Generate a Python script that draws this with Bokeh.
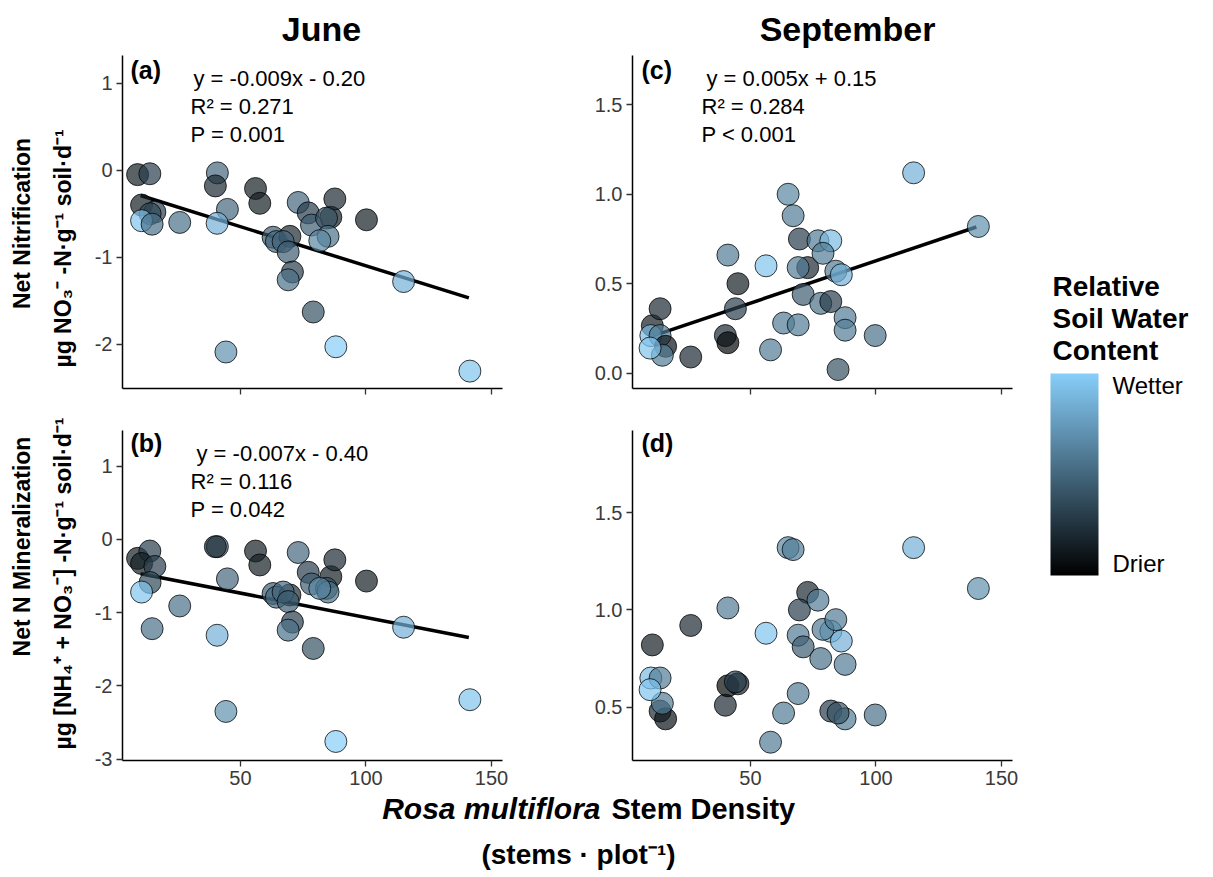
import numpy as np
from bokeh.plotting import figure
from bokeh.models import (Label, ColumnDataSource, LinearColorMapper, ColorBar,
                          FixedTicker, Range1d, PrintfTickFormatter)
from bokeh.layouts import row, column
from bokeh.embed import file_html
from bokeh.resources import INLINE

# ---------------- data ----------------
# June (panels a, b)
jun_x = [9.0, 13.9, 10.6, 15.9, 14.0, 10.6, 14.8, 25.8, 40.8, 40.0, 44.8, 40.7, 44.2, 56.0,
         57.7, 73.0, 77.0, 86.0, 87.6, 100.2, 78.3, 84.3, 84.9, 81.6, 63.0, 64.3, 69.7, 67.0,
         69.0, 70.7, 69.0, 79.0, 115.0, 88.0, 141.4]
jun_moist = [0.15, 0.3, 0.15, 0.3, 0.35, 0.95, 0.55, 0.55, 0.5, 0.2, 0.5, 0.85, 0.7, 0.15,
             0.15, 0.5, 0.3, 0.15, 0.2, 0.15, 0.45, 0.4, 0.55, 0.65, 0.45, 0.5, 0.2, 0.5,
             0.45, 0.3, 0.55, 0.4, 0.85, 1.0, 0.95]
nit_jun = [-0.05, -0.04, -0.40, -0.48, -0.50, -0.58, -0.62, -0.60, -0.03, -0.18, -0.45, -0.61,
           -2.09, -0.21, -0.38, -0.37, -0.49, -0.54, -0.33, -0.57, -0.63, -0.55, -0.76, -0.81,
           -0.77, -0.82, -0.76, -0.82, -0.94, -1.17, -1.26, -1.63, -1.28, -2.03, -2.31]
min_jun = [-0.26, -0.16, -0.33, -0.37, -0.59, -0.72, -1.22, -0.91, -0.10, -0.10, -0.54, -1.31,
           -2.35, -0.16, -0.35, -0.18, -0.45, -0.51, -0.28, -0.57, -0.61, -0.67, -0.72, -0.67,
           -0.74, -0.79, -0.76, -0.72, -0.85, -1.13, -1.24, -1.49, -1.20, -2.76, -2.19]

# September (panels c, d)
sep_x = [10.9, 14.0, 10.3, 14.0, 16.2, 14.9, 10.0, 26.2, 40.0, 41.0, 41.0, 45.0, 44.0, 56.2,
         58.0, 63.2, 65.0, 67.0, 72.8, 69.5, 69.0, 71.0, 69.0, 76.9, 82.0, 78.9, 78.0, 82.0,
         84.0, 86.2, 87.7, 87.7, 84.9, 99.7, 115.0, 140.8]
sep_moist = [0.15, 0.2, 0.9, 0.6, 0.1, 0.6, 0.95, 0.2, 0.2, 0.05, 0.6, 0.15, 0.3, 0.95,
             0.6, 0.6, 0.65, 0.6, 0.2, 0.3, 0.6, 0.45, 0.6, 0.6, 0.9, 0.6, 0.55, 0.3,
             0.6, 0.85, 0.6, 0.6, 0.4, 0.55, 0.85, 0.7]
nit_sep = [0.265, 0.36, 0.21, 0.21, 0.15, 0.10, 0.14, 0.09, 0.21, 0.17, 0.66, 0.50, 0.36, 0.60,
           0.13, 0.28, 1.00, 0.88, 0.59, 0.75, 0.59, 0.44, 0.27, 0.74, 0.74, 0.67, 0.39, 0.40,
           0.57, 0.55, 0.31, 0.24, 0.02, 0.21, 1.12, 0.82]
min_sep = [0.82, 0.48, 0.65, 0.65, 0.44, 0.52, 0.59, 0.92, 0.51, 0.61, 1.01, 0.62, 0.63, 0.88,
           0.32, 0.47, 1.32, 1.31, 1.09, 1.00, 0.87, 0.81, 0.57, 1.05, 0.89, 0.90, 0.75, 0.48,
           0.95, 0.84, 0.72, 0.44, 0.47, 0.46, 1.32, 1.11]

# regression fits (slope, intercept, x extent)
fit_a = (-0.00901, -0.198, [10.2, 141.0])
fit_b = (-0.00665, -0.402, [10.2, 141.0])
fit_c = (0.00473, 0.155, [13.6, 140.0])

eq_a = ["y = -0.009x - 0.20", "R² = 0.271", "P = 0.001"]
eq_b = ["y = -0.007x - 0.40", "R² = 0.116", "P = 0.042"]
eq_c = ["y = 0.005x + 0.15", "R² = 0.284", "P < 0.001"]

x_ticks = [50, 100, 150]

FONT = "Liberation Sans"


def make_palette(n=256):
    lo = np.array([0, 0, 0], dtype=float)
    hi = np.array([135, 206, 250], dtype=float)
    return ["#%02x%02x%02x" % tuple(int(round(v)) for v in lo + (hi - lo) * t)
            for t in np.linspace(0, 1, n)]


PAL = make_palette()
mapper = LinearColorMapper(palette=PAL, low=0, high=1)


def put(p, fx0, fy0, px, py, text, size, style="normal", align="left",
        baseline="middle", angle=0.0, color="black"):
    """Place a label at page pixel (px, py); (fx0, fy0) = page coords of frame left/bottom."""
    p.add_layout(Label(x=px - fx0, y=fy0 - py, x_units="screen", y_units="screen",
                       text=text, text_font=FONT, text_font_size=f"{size}px",
                       text_font_style=style, text_align=align, text_baseline=baseline,
                       angle=angle, text_color=color))


def blank(w, h):
    p = figure(frame_width=w, frame_height=h, min_border=0, x_range=Range1d(0, w),
               y_range=Range1d(0, h), x_axis_type=None, y_axis_type=None,
               output_backend="svg", toolbar_location=None, tools="")
    p.outline_line_color = None
    p.background_fill_color = "white"
    p.border_fill_color = "white"
    return p


def panel(yr, yticks, fmt, show_xlabels, top, bottom, left, right, fh):
    p = figure(frame_width=380, frame_height=fh, min_border_left=left,
               min_border_right=right, min_border_top=top, min_border_bottom=bottom,
               x_range=Range1d(3, 154.4), y_range=Range1d(*yr),
               output_backend="svg", toolbar_location=None, tools="")
    p.outline_line_color = None
    p.xgrid.grid_line_color = None
    p.ygrid.grid_line_color = None
    p.background_fill_color = "white"
    p.border_fill_color = "white"
    for ax in (p.xaxis, p.yaxis):
        ax.axis_line_width = 1.5
        ax.axis_line_color = "black"
        ax.major_tick_line_width = 1.3
        ax.major_tick_line_color = "#333333"
        ax.major_tick_out = 6
        ax.major_tick_in = 0
        ax.minor_tick_line_color = None
        ax.major_label_text_font = FONT
        ax.major_label_text_font_size = "20px"
        ax.major_label_text_color = "#3a3a3a"
    p.xaxis.ticker = FixedTicker(ticks=x_ticks)
    p.yaxis.ticker = FixedTicker(ticks=yticks)
    p.yaxis.formatter = PrintfTickFormatter(format=fmt)
    p.yaxis.major_label_standoff = 4
    p.xaxis.major_label_standoff = 4
    if not show_xlabels:
        p.xaxis.major_label_text_alpha = 0
    return p


def points(p, xs, ys, moist):
    src = ColumnDataSource(dict(x=xs, y=ys, m=moist))
    p.scatter("x", "y", source=src, size=22, fill_color={"field": "m", "transform": mapper},
              fill_alpha=0.7, line_color="black", line_alpha=0.75, line_width=1)


def fitline(p, fit):
    s, b, xs = fit
    p.line(xs, [b + s * x for x in xs], line_color="black", line_width=3.5)


# ---- layout geometry (page pixels) ----
LEFT_W = 80      # left strip with y titles
TOP_H = 55       # top strip with column titles
BOT_H = 87       # bottom strip with x title
LEG_W = 173

# ---- panels ----
fa = panel((-2.51, 1.32), [-2, -1, 0, 1], "%d", False, 0, 42, 122 - LEFT_W, 65, 333)
fc = panel((-0.086, 1.776), [0.0, 0.5, 1.0, 1.5], "%.1f", False, 0, 42, 65, 28, 333)
fb = panel((-3.02, 1.486), [-3, -2, -1, 0, 1], "%d", True, 0, 30, 122 - LEFT_W, 65, 330)
fd = panel((0.226, 1.922), [0.5, 1.0, 1.5], "%.1f", True, 0, 30, 65, 28, 330)

fitline(fa, fit_a)
fitline(fb, fit_b)
fitline(fc, fit_c)
points(fa, jun_x, nit_jun, jun_moist)
points(fb, jun_x, min_jun, jun_moist)
points(fc, sep_x, nit_sep, sep_moist)
points(fd, sep_x, min_sep, sep_moist)

# frame origins (page coords of frame left, frame bottom)
A0 = (122, 388)
C0 = (632, 388)
B0 = (122, 760)
D0 = (632, 760)

# panel letters
put(fa, *A0, 130, 69, "(a)", 25, "bold")
put(fb, *B0, 130, 442, "(b)", 25, "bold")
put(fc, *C0, 641, 69, "(c)", 25, "bold")
put(fd, *D0, 641, 442, "(d)", 25, "bold")

# equations
for i, (t, yy) in enumerate(zip(eq_a, [78, 106, 134])):
    put(fa, *A0, 193 if i == 0 else 190, yy, t, 22)
for i, (t, yy) in enumerate(zip(eq_b, [453, 481, 509])):
    put(fb, *B0, 196 if i == 0 else 190, yy, t, 22)
for i, (t, yy) in enumerate(zip(eq_c, [78, 106, 134])):
    put(fc, *C0, 706 if i == 0 else 701, yy, t, 22)

# ---- top strip: column titles ----
ft = blank(960, TOP_H)
T0 = (LEFT_W, TOP_H)
put(ft, *T0, 321, 28, "June", 34, "bold", "center")
put(ft, *T0, 847, 28, "September", 34, "bold", "center")

# ---- left strip: y titles ----
fleft = blank(LEFT_W, 877)
LL0 = (0, 877)
put(fleft, *LL0, 21, 223, "Net Nitrification", 23, "bold", "center", angle=np.pi / 2)
put(fleft, *LL0, 62, 248, "µg NO₃⁻ -N·g⁻¹ soil·d⁻¹", 23, "bold", "center", angle=np.pi / 2)
put(fleft, *LL0, 21, 546, "Net N Mineralization", 23, "bold", "center", angle=np.pi / 2)
put(fleft, *LL0, 62, 583, "µg [NH₄⁺ + NO₃⁻] -N·g⁻¹ soil·d⁻¹", 23, "bold", "center",
    angle=np.pi / 2)

# ---- bottom strip: x title ----
fbot = blank(960, BOT_H)
BB0 = (LEFT_W, 877)
put(fbot, *BB0, 600, 808, "Rosa multiflora", 30, "bold italic", "right")
put(fbot, *BB0, 611, 808, "Stem Density", 29, "bold", "left")
put(fbot, *BB0, 578, 854, "(stems · plot⁻¹)", 28, "bold", "center")

# ---- legend strip ----
fl = blank(LEG_W, 877)
L0 = (1040, 877)
put(fl, *L0, 1052, 286, "Relative", 28, "bold")
put(fl, *L0, 1052, 318, "Soil Water", 28, "bold")
put(fl, *L0, 1052, 350, "Content", 28, "bold")

cmap100 = LinearColorMapper(palette=PAL, low=0, high=100)
cb = ColorBar(color_mapper=cmap100, location=(10, 877 - 575), width=48, height=202,
              padding=0, margin=0, ticker=FixedTicker(ticks=[6, 94]),
              major_label_overrides={6: "Drier", 94: "Wetter"},
              major_label_text_font=FONT, major_label_text_font_size="24px",
              major_label_text_color="black", label_standoff=14,
              major_tick_line_color=None, bar_line_color=None,
              background_fill_color=None, border_line_color=None)
fl.add_layout(cb)

middle = column(ft, row(fa, fc), row(fb, fd), fbot)
layout = row(fleft, middle, fl)
open("out.html", "w").write(file_html(layout, INLINE))
